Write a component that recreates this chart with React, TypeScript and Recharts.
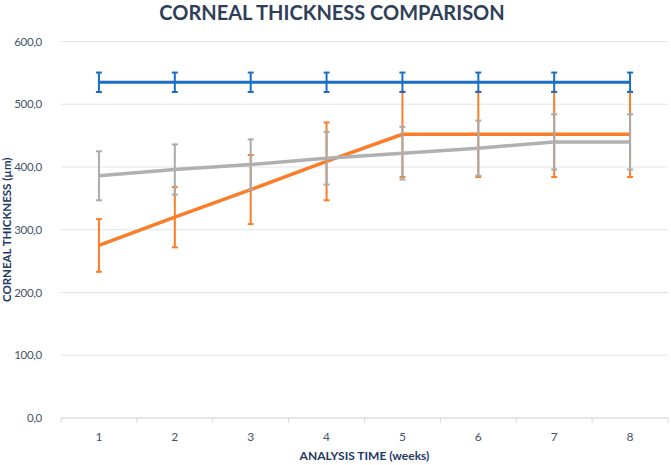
import { CartesianGrid, ErrorBar, Line, LineChart, XAxis, YAxis } from "recharts";

const weeks = [1, 2, 3, 4, 5, 6, 7, 8];
const blueValues = [535, 535, 535, 535, 535, 535, 535, 535];
const blueErrors = [15.5, 15.5, 15.5, 15.5, 15.5, 15.5, 15.5, 15.5];
const orangeValues = [275, 320, 364, 409, 452, 452, 452, 452];
const orangeErrors = [42, 48, 55, 62, 68, 68, 68, 68];
const grayValues = [386, 396, 404, 414, 422, 430, 440, 440];
const grayErrors = [39, 40, 40, 42, 42, 44, 44, 44];
const yTicks = [0, 100, 200, 300, 400, 500, 600];
const xTicks = [0.5, 1, 1.5, 2, 2.5, 3, 3.5, 4, 4.5, 5, 5.5, 6, 6.5, 7, 7.5, 8, 8.5];

const data = weeks.map((week, i) => ({
  week,
  blue: blueValues[i],
  blueErr: blueErrors[i],
  orange: orangeValues[i],
  orangeErr: orangeErrors[i],
  gray: grayValues[i],
  grayErr: grayErrors[i],
}));

const FONT = "Lato, 'Open Sans', sans-serif";
const TEXT = "#44546a";
const NAVY = "#1f3864";

function XTick(props: any) {
  const { x, y, payload } = props;
  const v = payload.value;
  if (v % 1 !== 0) {
    return <line x1={x} x2={x} y1={y} y2={y + 5} stroke="#d9d9d9" />;
  }
  return (
    <text x={x} y={y + 23} textAnchor="middle" fill={TEXT} fontSize={12} fontFamily={FONT}>
      {v}
    </text>
  );
}

export default function App() {
  return (
    <div style={{ position: "absolute", left: 0, top: 0, width: 671, height: 465, background: "#fff" }}>
      <LineChart
        width={671}
        height={465}
        data={data}
        margin={{ top: 41.5, right: 3, bottom: 0, left: 0 }}
        style={{ position: "absolute", left: 0, top: 0 }}
      >
        <CartesianGrid vertical={false} stroke="#dfe5ec" />
        <XAxis
          dataKey="week"
          type="number"
          domain={[0.5, 8.5]}
          ticks={xTicks}
          interval={0}
          height={47}
          tickSize={0}
          tickMargin={0}
          tickLine={false}
          axisLine={{ stroke: "#d9d9d9" }}
          tick={<XTick />}
          label={{
            value: "ANALYSIS TIME (weeks)",
            position: "insideBottom",
            offset: 5,
            fill: NAVY,
            fontSize: 12,
            fontWeight: 700,
            fontFamily: FONT,
          }}
        />
        <YAxis
          domain={[0, 600]}
          ticks={yTicks}
          width={61}
          tickLine={false}
          axisLine={false}
          tickMargin={13}
          tick={{ fill: TEXT, fontSize: 11.5, fontFamily: FONT, letterSpacing: -0.3 }}
          tickFormatter={(v: number) => v.toFixed(1).replace(".", ",")}
          label={{
            value: "CORNEAL THICKNESS (µm)",
            angle: -90,
            position: "insideLeft",
            offset: 7,
            style: { textAnchor: "middle" },
            fill: NAVY,
            fontSize: 11.5,
            fontWeight: 700,
            fontFamily: FONT,
          }}
        />
        <Line
          dataKey="orange"
          stroke="#fb7d2a"
          strokeWidth={3.5}
          dot={false}
          isAnimationActive={false}
        >
          <ErrorBar dataKey="orangeErr" direction="y" width={3} strokeWidth={2} stroke="#fb7d2a" />
        </Line>
        <Line
          dataKey="gray"
          stroke="#b0b0b0"
          strokeWidth={3.5}
          dot={false}
          isAnimationActive={false}
        >
          <ErrorBar dataKey="grayErr" direction="y" width={3} strokeWidth={2} stroke="#aaaaaa" />
        </Line>
        <Line
          dataKey="blue"
          stroke="#1a6ec6"
          strokeWidth={3}
          dot={false}
          isAnimationActive={false}
        >
          <ErrorBar dataKey="blueErr" direction="y" width={3} strokeWidth={2} stroke="#1a6ec6" />
        </Line>
      </LineChart>
      <div
        style={{
          position: "absolute",
          top: 0,
          left: 0,
          width: 664,
          textAlign: "center",
          fontFamily: FONT,
          fontWeight: 700,
          fontSize: 20,
          color: "#2e4059",
          lineHeight: "24px",
        }}
      >
        CORNEAL THICKNESS COMPARISON
      </div>
    </div>
  );
}
